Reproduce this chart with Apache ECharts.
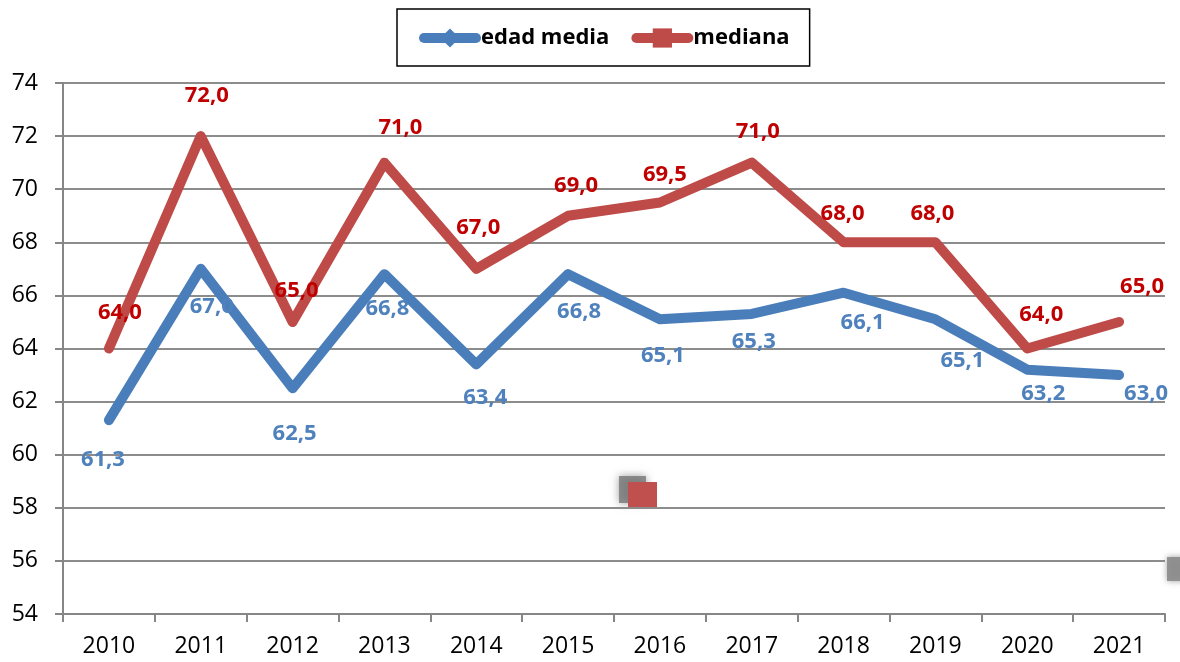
<!DOCTYPE html>
<html>
<head>
<meta charset="utf-8">
<script src="https://cdn.jsdelivr.net/npm/echarts@6/dist/echarts.min.js"></script>
<style>
  html, body { margin: 0; padding: 0; background: #fff; }
  #main { width: 1180px; height: 662px; }
</style>
</head>
<body>
<div id="main"></div>
<script>
// datos
var years = ['2010', '2011', '2012', '2013', '2014', '2015', '2016', '2017', '2018', '2019', '2020', '2021'];
var edadMedia = [61.3, 67.0, 62.5, 66.8, 63.4, 66.8, 65.1, 65.3, 66.1, 65.1, 63.2, 63.0];
var mediana = [64.0, 72.0, 65.0, 71.0, 67.0, 69.0, 69.5, 71.0, 68.0, 68.0, 64.0, 65.0];
var yTicks = [54, 56, 58, 60, 62, 64, 66, 68, 70, 72, 74];

// desplazamiento de etiquetas (px) respecto al punto
var offMedia = [[-6, 40], [11, 38], [2, 45], [3, 35], [9, 33], [11, 38], [3, 36], [2, 28], [19, 30], [27, 41], [16, 24], [27, 19]];
var offMediana = [[11, -36], [6, -40], [4, -31], [16, -35], [2, -41], [8, -30], [5, -28], [6, -31], [-1, -29], [-3, -29], [14, -34], [23, -35]];

function withLabels(values, offsets) {
    return values.map(function (v, i) {
        return { value: v, label: { offset: offsets[i] } };
    });
}

function fmt(p) {
    return p.value.toFixed(1).replace('.', ',');
}

var dom = document.getElementById('main');
var myChart = echarts.init(dom);

var option = {
    animation: false,
    backgroundColor: '#fff',
    color: ['#4A7EBB', '#BE4B48'],
    legend: {
        left: 397,
        top: 9,
        padding: [18, 20, 17, 22],
        itemWidth: 52,
        itemHeight: 24,
        itemGap: 22,
        borderColor: '#000',
        borderWidth: 1.5,
        lineStyle: { width: 10, cap: 'round' },
        textStyle: { fontFamily: 'Open Sans', fontWeight: 'bold', fontSize: 22, color: '#000' },
        data: ['edad media', 'mediana']
    },
    grid: {
        left: 63,
        right: 15,
        top: 83,
        bottom: 48
    },
    xAxis: {
        type: 'category',
        data: years,
        boundaryGap: true,
        axisLine: { lineStyle: { color: '#868686', width: 2 } },
        axisTick: { show: true, length: 8, lineStyle: { color: '#868686', width: 2 } },
        axisLabel: { margin: 21, fontFamily: 'Open Sans', fontSize: 23, color: '#000' }
    },
    yAxis: {
        type: 'value',
        min: yTicks[0],
        max: yTicks[yTicks.length - 1],
        interval: 2,
        axisLine: { show: true, lineStyle: { color: '#868686', width: 2 } },
        axisTick: { show: true, length: 8, lineStyle: { color: '#868686', width: 2 } },
        axisLabel: { margin: 25, fontFamily: 'Open Sans', fontSize: 23, color: '#000' },
        splitLine: { lineStyle: { color: '#8C8C8C', width: 2 } }
    },
    series: [
        {
            name: 'edad media',
            type: 'line',
            symbol: 'diamond',
            symbolSize: 0,
            showSymbol: true,
            lineStyle: { width: 10, color: '#4A7EBB', cap: 'round', join: 'round' },
            itemStyle: { color: '#4A7EBB' },
            label: {
                show: true,
                position: 'inside',
                formatter: fmt,
                fontFamily: 'Open Sans',
                fontWeight: 'bold',
                fontSize: 22,
                color: '#4F81BD'
            },
            data: withLabels(edadMedia, offMedia)
        },
        {
            name: 'mediana',
            type: 'line',
            symbol: 'rect',
            symbolSize: 0,
            showSymbol: true,
            lineStyle: { width: 10, color: '#BE4B48', cap: 'round', join: 'round' },
            itemStyle: { color: '#BE4B48' },
            label: {
                show: true,
                position: 'inside',
                formatter: fmt,
                fontFamily: 'Open Sans',
                fontWeight: 'bold',
                fontSize: 22,
                color: '#C00000'
            },
            data: withLabels(mediana, offMediana)
        }
    ],
    // restos sueltos del gráfico original
    graphic: [
        {
            type: 'rect',
            left: 619, top: 476,
            shape: { width: 27, height: 27 },
            style: { fill: 'rgba(120,120,120,0.8)', shadowColor: 'rgba(120,120,120,0.9)', shadowBlur: 8 }
        },
        {
            type: 'rect',
            left: 628, top: 482,
            shape: { width: 29, height: 27 },
            style: { fill: '#C0504D' }
        },
        {
            type: 'rect',
            left: 1167, top: 557,
            shape: { width: 20, height: 24 },
            style: { fill: 'rgba(140,140,140,0.9)', shadowColor: 'rgba(140,140,140,0.9)', shadowBlur: 6 }
        }
    ]
};

if (option && typeof option === 'object') {
    myChart.setOption(option, true);
}
</script>
</body>
</html>
